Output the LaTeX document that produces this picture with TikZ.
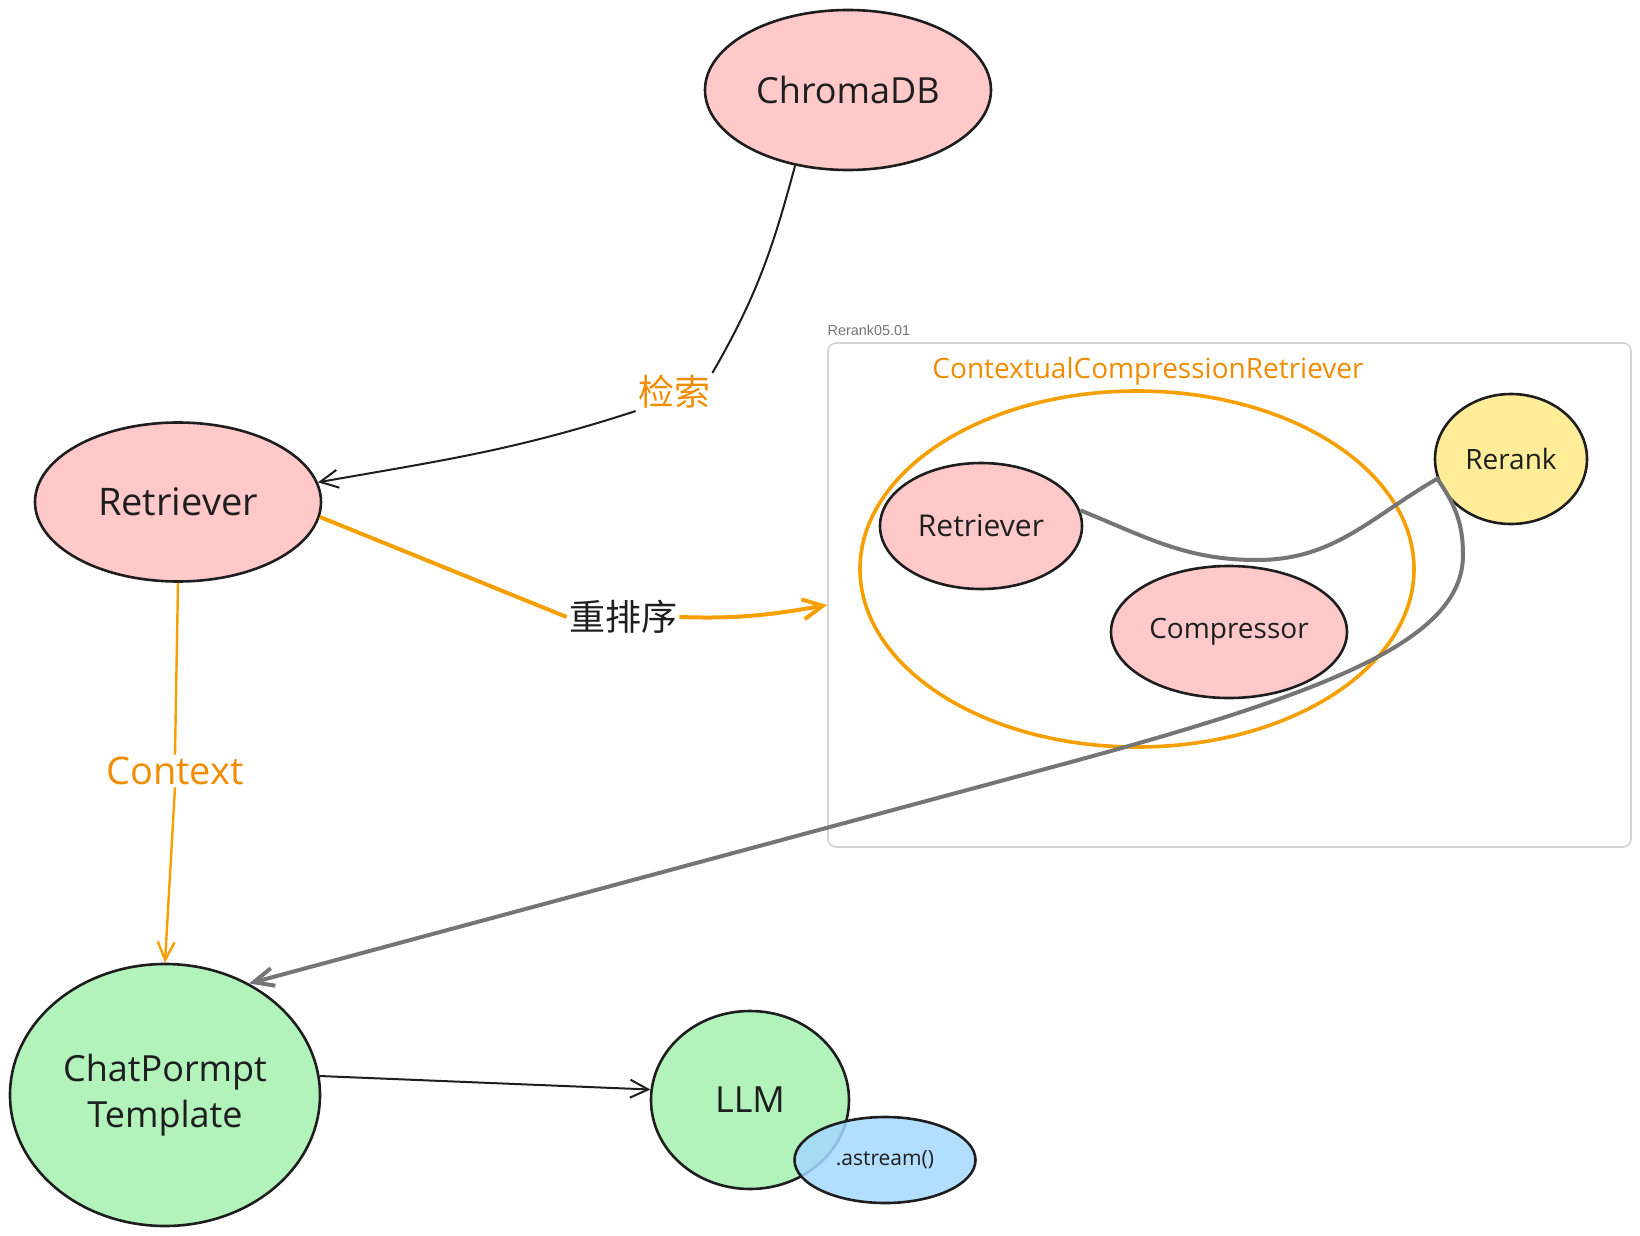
\documentclass[tikz,border=0pt]{standalone}
\usepackage{fontspec}
\setmainfont{Open Sans}
\newfontfamily\cjkfont{Noto Sans CJK SC}
\newfontfamily\tagfont{Liberation Sans}
\usetikzlibrary{positioning,shapes.geometric,arrows.meta}

\definecolor{ink}{HTML}{1E1E1E}
\definecolor{pinkfill}{HTML}{FFC9C9}
\definecolor{greenfill}{HTML}{B2F2BB}
\definecolor{bluefill}{HTML}{A5D8FF}
\definecolor{yellowfill}{HTML}{FFEC99}
\definecolor{orangeline}{HTML}{F59F00}
\definecolor{orangetext}{HTML}{F08C00}
\definecolor{grayline}{HTML}{757575}
\definecolor{framegray}{HTML}{D3D3D3}

\newcommand{\fsbig}{\fontsize{18}{23}\selectfont}
\newcommand{\fsbigger}{\fontsize{19}{23}\selectfont}
\newcommand{\fsmid}{\fontsize{14}{17}\selectfont}
\newcommand{\fssmall}{\fontsize{10.5}{13}\selectfont}

\begin{document}
\begin{tikzpicture}[
  x=0.5pt, y=-0.5pt,
  every node/.style={text=ink},
  blob/.style     ={ellipse, draw=ink, line width=1.3pt, inner sep=0pt,
                    align=center},
  pinkblob/.style ={blob, fill=pinkfill},
  greenblob/.style={blob, fill=greenfill},
  lbl/.style      ={inner sep=1pt, font=\fsbig},
  arr/.style      ={draw=ink, line width=1pt,
                    -{Straight Barb[length=9pt,width=9pt]}},
  orangearr/.style={draw=orangeline, line width=2pt,
                    -{Straight Barb[length=10pt,width=10pt]}},
  ctxarr/.style   ={draw=orangeline, line width=1.2pt,
                    -{Straight Barb[length=9pt,width=8.5pt]}},
  grayarr/.style  ={draw=grayline, line width=2pt,
                    -{Straight Barb[length=10pt,width=9pt]}}
]

\useasboundingbox (0,0) rectangle (1640,1236);

%% --- Left column ---------------------------------------------
\node[pinkblob, minimum width=143pt, minimum height=80pt, font=\fsbig]
     (chroma) at (848,90) {ChromaDB};
\node[pinkblob, minimum width=143pt, minimum height=79.5pt, font=\fsbigger]
     (retr) at (178,502) {Retriever};
\node[greenblob, minimum width=155pt, minimum height=131pt, font=\fsbig]
     (chat) at (165,1095) {ChatPormpt\\Template};
\node[greenblob, minimum width=99pt, minimum height=89pt, font=\fsbig]
     (llm) at (750,1100) {LLM};
\node[blob, fill=bluefill, fill opacity=0.85, text opacity=1,
      minimum width=90.5pt, minimum height=43pt, font=\fssmall]
     (astream) at (885,1160) {.astream()};

%% --- Rerank group (right) ------------------------------------
\node[draw=framegray, line width=0.8pt, rounded corners=4pt,
      minimum width=401.5pt, minimum height=252pt] (frame) at (1229.5,595) {};
\node[anchor=south west, inner sep=0pt, text=grayline,
      font=\tagfont\fontsize{7.2}{9}\selectfont]
     (frame_lbl) at ([yshift=3pt]frame.north west) {Rerank05.01};

\node[ellipse, draw=orangeline, line width=1.8pt,
      minimum width=277pt, minimum height=178pt] (cc_group) at (1137,569) {};
\node[text=orangetext, font=\fsmid, inner sep=0pt]
     (cc_lbl) at (1148,371) {ContextualCompressionRetriever};

\node[pinkblob, minimum width=101pt, minimum height=63pt,
      font=\fontsize{15}{18}\selectfont]
     (retr_cc) at (981,526) {Retriever};
\node[pinkblob, minimum width=118pt, minimum height=66pt, font=\fsmid]
     (compressor) at (1229,632) {Compressor};
\node[blob, fill=yellowfill, minimum width=76pt, minimum height=65pt,
      font=\fsmid] (rerank) at (1511,459) {Rerank};

%% --- Edge labels ---------------------------------------------
\node[lbl, text=orangetext, font=\cjkfont\fsbig] (lbl_search) at (674,392) {检索};
\node[lbl, font=\cjkfont\fsbig] (lbl_rerank) at (623,617) {重排序};
\node[lbl, text=orangetext, font=\fsbigger] (lbl_context) at (175,771) {Context};

%% --- Arrows --------------------------------------------------
% ChromaDB -> Retriever
\draw[draw=ink, line width=1pt] (chroma.235) to[out=-105, in=60] (lbl_search.north east);
\draw[arr] (lbl_search.south west) to[out=-162, in=10] (retr.8);
% Retriever -> rerank group
\draw[draw=orangeline, line width=2pt] (retr.-6) -- (lbl_rerank.west);
\draw[orangearr] (lbl_rerank.east) to[out=-2, in=190] ([yshift=-5pt]frame.west);
% Retriever -> ChatPormpt
\draw[draw=orangeline, line width=1.2pt] (retr.south) -- (lbl_context.north);
\draw[ctxarr] (lbl_context.south) -- (chat.north);
% ChatPormpt -> LLM
\draw[arr] (chat.7) -- (llm.174);
% Retriever -> Rerank -> ChatPormpt
\coordinate (dip)  at (1257,560);
\coordinate (loop) at (1463,555);
\coordinate (bend) at (1060,765);
\draw[grayarr] (retr_cc.9) to[out=-22, in=180] (dip)
     to[out=0, in=210] (rerank.195)
     to[out=-55, in=90] (loop)
     .. controls (1463,640) and (1330,692) .. (bend)
     -- (chat.53);

\end{tikzpicture}
\end{document}
